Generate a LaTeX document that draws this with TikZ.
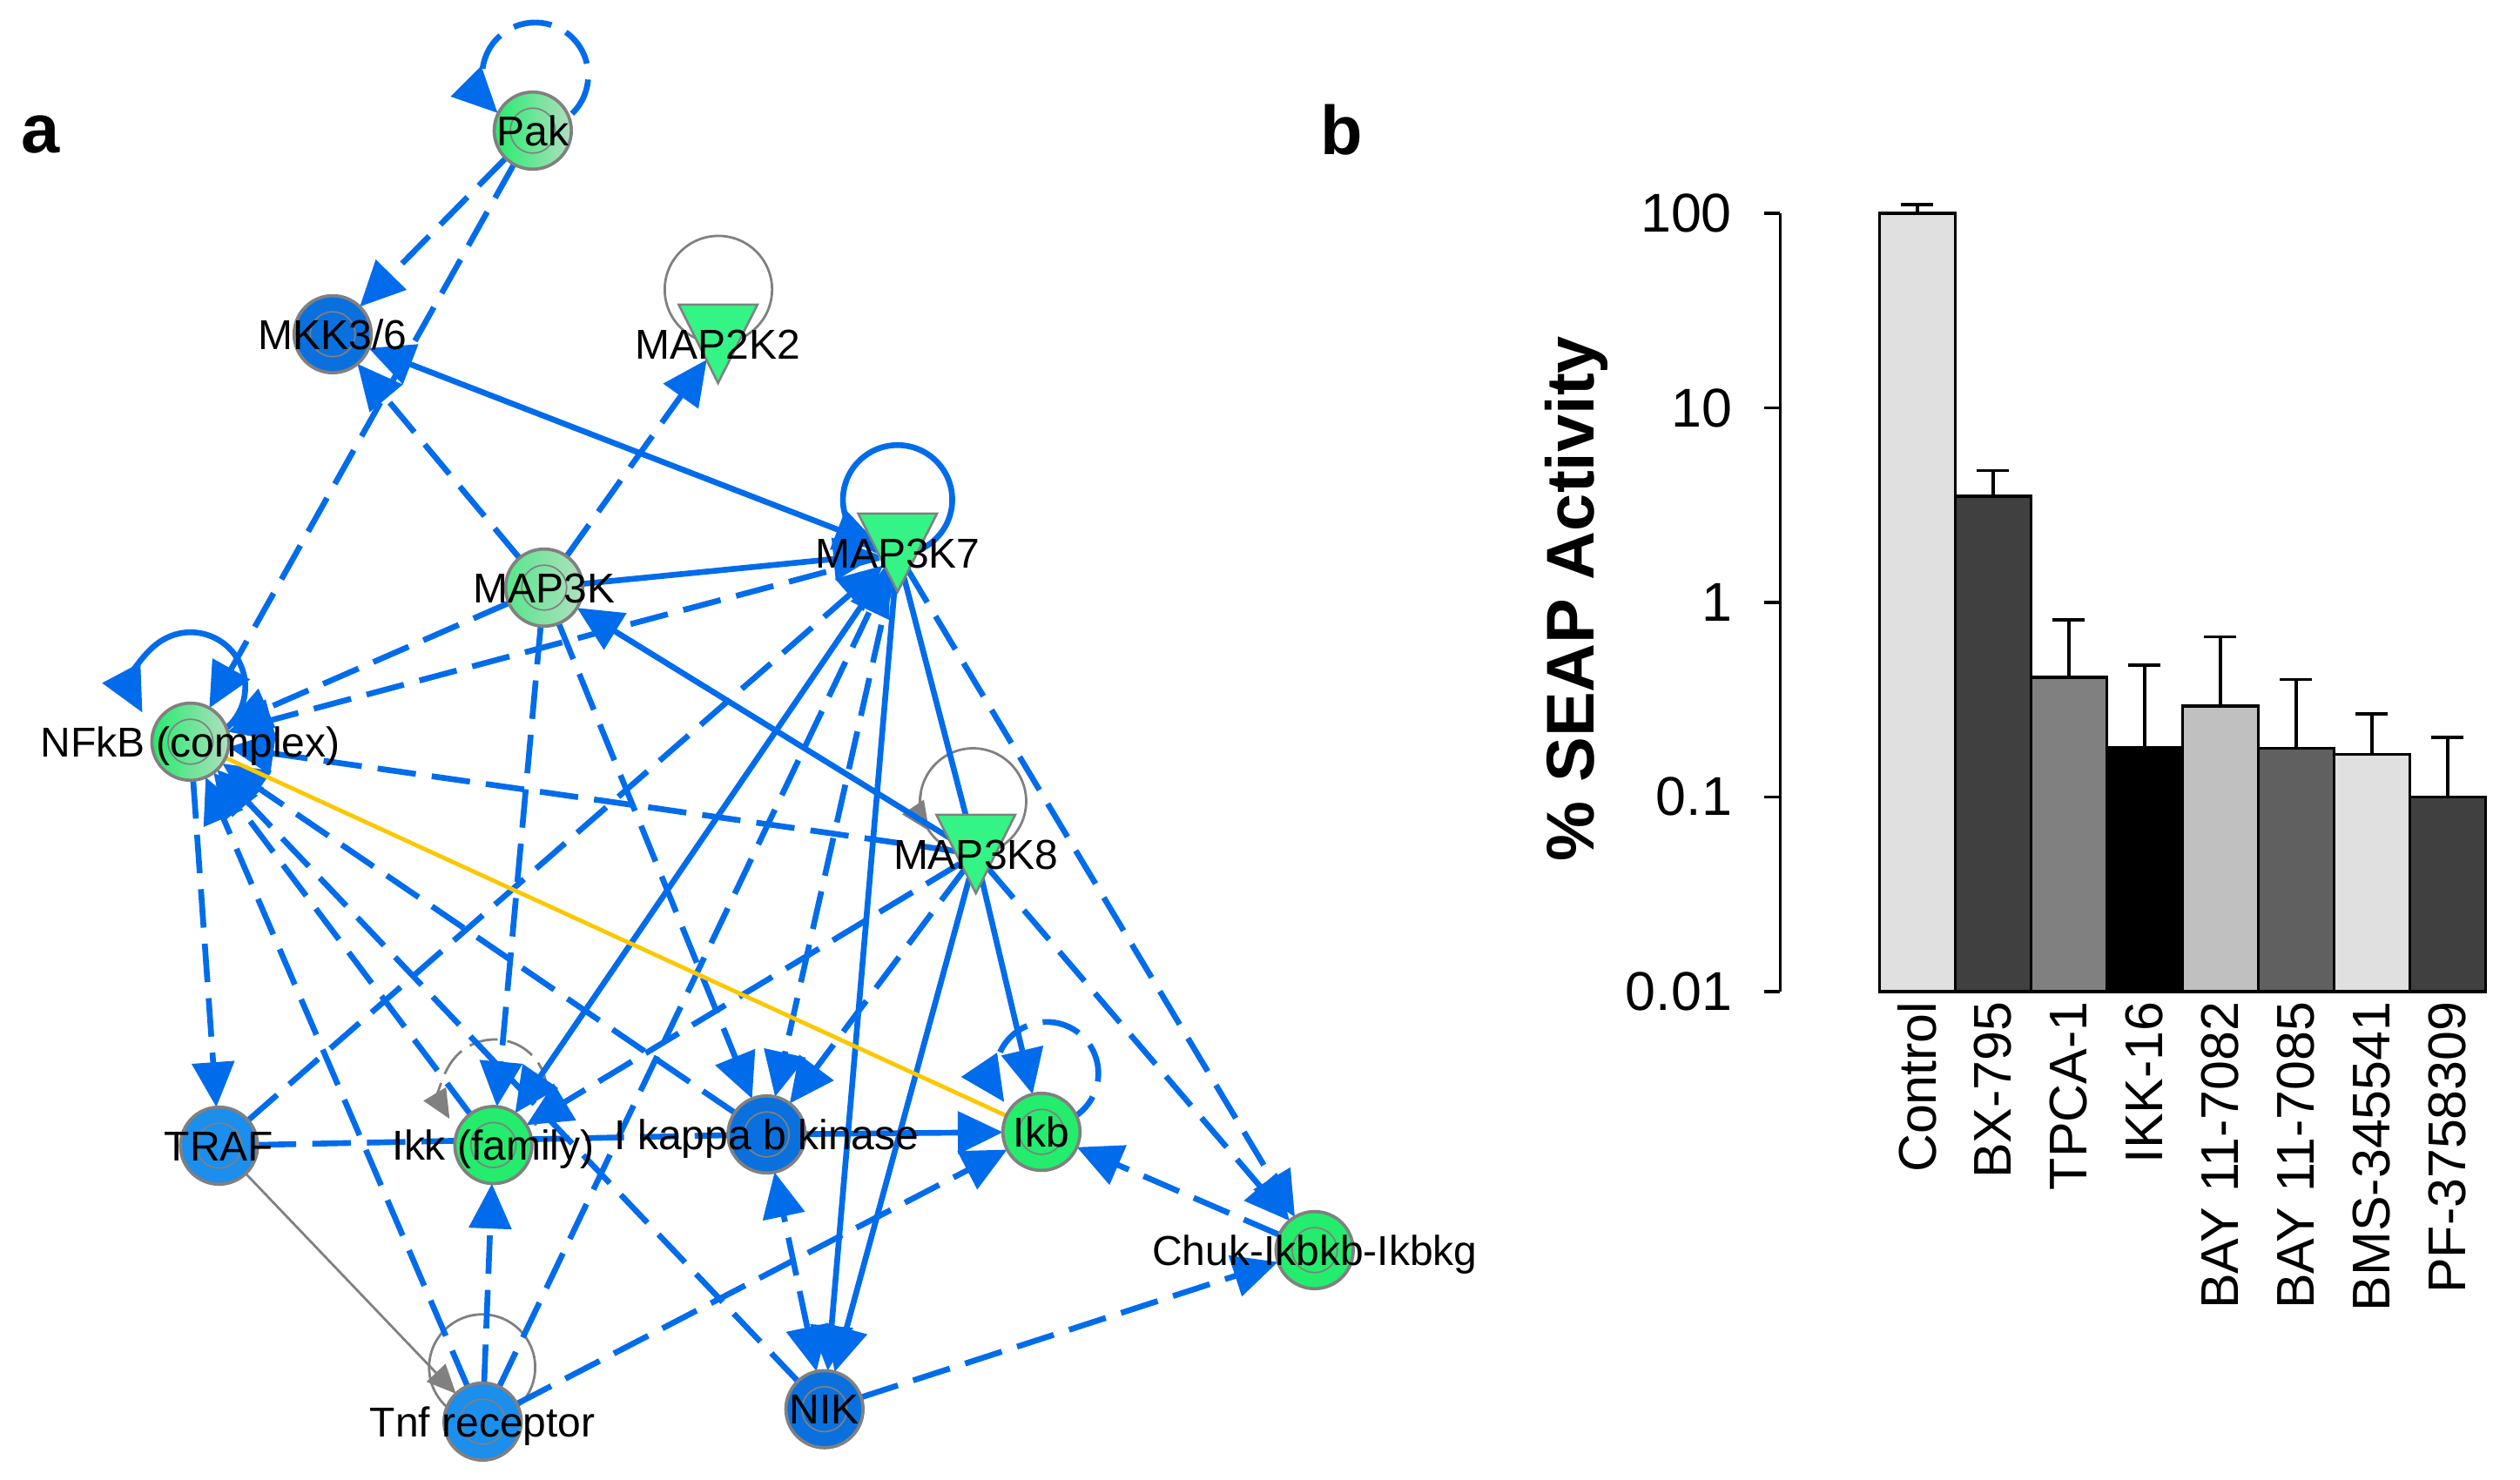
\documentclass[tikz,border=0pt]{standalone}
\usepackage{fontspec}
\setmainfont{Liberation Sans}
\usetikzlibrary{arrows.meta,calc}
\pgfdeclarelayer{edges}
\pgfsetlayers{edges,main}
\definecolor{eblue}{RGB}{0,108,235}
\definecolor{ngray}{RGB}{128,128,128}
\definecolor{bluedk}{RGB}{10,112,222}
\definecolor{bluelt}{RGB}{28,142,236}
\definecolor{gbright}{RGB}{36,236,108}
\definecolor{gpale}{RGB}{178,222,192}
\definecolor{tgreen}{RGB}{52,244,134}
\definecolor{yel}{RGB}{250,200,0}
\definecolor{g224}{RGB}{224,224,224}
\definecolor{g192}{RGB}{192,192,192}
\definecolor{g128}{RGB}{128,128,128}
\definecolor{g96}{RGB}{96,96,96}
\definecolor{g64}{RGB}{64,64,64}
\newcommand\lblfont{\fontsize{13}{15}\selectfont}
\newcommand\trishape[1]{\filldraw[tri] ([shift={(-12.25pt,12.2pt)}]#1.center) -- ([shift={(12.25pt,12.2pt)}]#1.center) -- ([shift={(0pt,-12.2pt)}]#1.center) -- cycle;}
\begin{document}
\begin{tikzpicture}[x=0.5pt,y=-0.5pt,
  eb/.style={draw=eblue, line width=1.8pt},
  ds/.style={eb, dash pattern=on 12pt off 5pt},
  ar/.style={-{Triangle[length=14pt,width=13pt]}},
  ar2/.style={{Triangle[length=14pt,width=13pt]}-{Triangle[length=14pt,width=13pt]}},
  gl/.style={draw=ngray, line width=0.75pt},
  gds/.style={gl, dash pattern=on 9pt off 3pt},
  gar/.style={-{Triangle[length=9pt,width=8pt]}},
  yl/.style={draw=yel, line width=1.3pt},
  nd/.style={circle, draw=ngray, line width=1pt, minimum size=24pt, inner sep=0pt, outer sep=0pt,
    path picture={\draw[ngray, line width=0.45pt] (path picture bounding box.center) circle[radius=7pt];}},
  gn/.style={nd, fill=gbright},
  bd/.style={nd, fill=bluedk},
  bl/.style={nd, fill=bluelt},
  pg/.style={nd, left color=gbright, middle color=gbright!75!gpale, right color=gpale},
  pg2/.style={nd, left color=gbright!65!gpale, right color=gpale},
  tn/.style={circle, minimum size=12pt, inner sep=0pt, outer sep=0pt},
  tri/.style={fill=tgreen, draw=ngray, line width=0.7pt},
  lbl/.style={font=\lblfont, anchor=base, inner sep=0pt, text=black},
  barax/.style={draw=black, line width=0.95pt},
  ticklab/.style={font=\fontsize{17}{19}\selectfont, anchor=east, inner sep=0pt},
  xlab/.style={font=\fontsize{16.5}{18}\selectfont, rotate=90, anchor=east, inner sep=0pt},
  panel/.style={font=\bfseries\fontsize{21.5}{24}\selectfont, anchor=base, inner sep=0pt}
]
\useasboundingbox (0,0) rectangle (1568,921);

% ---------- panel labels
\node[panel] (pa) at (25,95) {a};
\node[panel] (pb) at (835,96) {b};

% ---------- network nodes
\node[pg]  (Pak)    at (331.5,81.3) {};
\node[bd]  (MKK)    at (207,208) {};
\node[tn]  (MAP2K2) at (446.8,214) {};
\node[tn]  (MAP3K7) at (558.5,344) {};
\node[pg2] (MAP3K)  at (338.6,365.7) {};
\node[pg]  (NFkB)   at (118.5,461.6) {};
\node[tn]  (MAP3K8) at (607.2,531.5) {};
\node[bl]  (TRAF)   at (136.3,713) {};
\node[gn]  (Ikk)    at (307,712.6) {};
\node[bd]  (IKBK)   at (477,706) {};
\node[gn]  (Ikb)    at (648,704.4) {};
\node[gn]  (Chuk)   at (818,778) {};
\node[bl]  (Tnf)    at (300.3,884.7) {};
\node[bd]  (NIK)    at (513,877) {};

\trishape{MAP2K2}
\trishape{MAP3K7}
\trishape{MAP3K8}

% ---------- loop centres
\coordinate (cPak) at (333,47);
\coordinate (cNF) at (118.6,427.5);
\coordinate (cIkb) at (651.4,668);
\coordinate (cIkk) at (307.7,679.5);
\coordinate (cM8) at (605.5,498.7);
\coordinate (cM2) at (447,180.2);
\coordinate (cM7) at (558.5,311);
\coordinate (cTnf) at (300,851);

\begin{pgfonlayer}{edges}
% loops
\draw[ds,ar] ($(cPak)+(314:16.5pt)$) arc[start angle=314, end angle=585, radius=16.5pt];
\draw[eb,ar] ($(cNF)+(-60:17pt)$) arc[start angle=-60, end angle=208, radius=17pt];
\draw[ds,ar] ($(cIkb)+(-70:16pt)$) arc[start angle=-70, end angle=214, radius=16pt];
\draw[gds,gar] ($(cIkk)+(-40:16.3pt)$) arc[start angle=-40, end angle=211, radius=16.3pt];
\draw[gl] (cM8) circle[radius=16.5pt];
\draw[gl,gar] ($(cM8)+(170:16.5pt)$) arc[start angle=170, end angle=214, radius=16.5pt];
\draw[gl] (cM2) circle[radius=16.7pt];
\draw[eb] (cM7) circle[radius=17pt];
\draw[gl] (cTnf) circle[radius=16.5pt];
% edges
\draw[ds,ar] (Pak) -- (MKK);
\draw[ds,ar] (Pak) -- (NFkB);
\draw[eb,ar2] (MKK) -- (MAP3K7);
\draw[ds,ar] (MAP3K) -- (MKK);
\draw[ds,ar] (MAP3K) -- (MAP2K2);
\draw[eb,ar] (MAP3K) -- (MAP3K7);
\draw[ds,ar] (MAP3K) -- (NFkB);
\draw[ds,ar] (MAP3K7) -- (NFkB);
\draw[ds,ar] (NFkB) -- (TRAF);
\draw[ds,ar] (MAP3K8) -- (NFkB);
\draw[ds,ar] (Tnf) -- (NFkB);
\draw[ds,ar] (Ikk) -- (NFkB);
\draw[ds,ar] (NIK) -- (NFkB);
\draw[ds,ar] (IKBK) -- (NFkB);
\draw[ds,ar] (TRAF) -- (MAP3K7);
\draw[ds] (TRAF) -- (IKBK);
\draw[gl,gar] (TRAF) -- (Tnf);
\draw[ds,ar] (MAP3K) -- (Ikk);
\draw[eb,ar] (MAP3K7) -- (Ikk);
\draw[ds,ar] (MAP3K8) -- (Ikk);
\draw[ds,ar] (Tnf) -- (Ikk);
\draw[ds,ar] (MAP3K) -- (IKBK);
\draw[ds,ar] (MAP3K7) -- (IKBK);
\draw[ds,ar] (MAP3K8) -- (IKBK);
\draw[eb,ar] (IKBK) -- (Ikb);
\draw[ds,ar2] (NIK) -- (IKBK);
\draw[eb,ar] (MAP3K7) -- (NIK);
\draw[eb,ar] (MAP3K8) -- (NIK);
\draw[ds,ar] (NIK) -- (Chuk);
\draw[ds,ar] (MAP3K7) -- (Chuk);
\draw[ds,ar] (MAP3K8) -- (Chuk);
\draw[ds,ar] (Chuk) -- (Ikb);
\draw[eb,ar] (MAP3K8) -- (Ikb);
\draw[ds,ar] (Tnf) -- (Ikb);
\draw[ds,ar] (Tnf) -- (MAP3K7);
\draw[eb] (MAP3K7) -- (MAP3K8);
\draw[eb,ar] (MAP3K8) -- (MAP3K);
\draw[yl] (NFkB) -- (Ikb);
\end{pgfonlayer}

% ---------- node labels
\node[lbl] (tPak)  at ($(Pak.center)+(0pt,-4.65pt)$) {Pak};
\node[lbl] (tMKK)  at ($(MKK.center)+(0pt,-4.65pt)$) {MKK3/6};
\node[lbl] (tM2)   at ($(MAP2K2.center)+(0pt,-4.65pt)$) {MAP2K2};
\node[lbl] (tM7)   at ($(MAP3K7.center)+(0pt,-4.65pt)$) {MAP3K7};
\node[lbl] (tM3)   at ($(MAP3K.center)+(0pt,-4.65pt)$) {MAP3K};
\node[lbl] (tNF)   at ($(NFkB.center)+(0pt,-4.65pt)$) {NFkB (complex)};
\node[lbl] (tM8)   at ($(MAP3K8.center)+(0pt,-4.65pt)$) {MAP3K8};
\node[lbl] (tTRAF) at ($(TRAF.center)+(0pt,-4.65pt)$) {TRAF};
\node[lbl] (tIkk)  at ($(Ikk.center)+(0pt,-4.65pt)$) {Ikk (family)};
\node[lbl] (tIKBK) at ($(IKBK.center)+(0pt,-4.65pt)$) {I kappa b kinase};
\node[lbl] (tIkb)  at ($(Ikb.center)+(0pt,-4.65pt)$) {Ikb};
\node[lbl] (tChuk) at ($(Chuk.center)+(0pt,-4.65pt)$) {Chuk-Ikbkb-Ikbkg};
\node[lbl] (tTnf)  at ($(Tnf.center)+(0pt,-4.65pt)$) {Tnf receptor};
\node[lbl] (tNIK)  at ($(NIK.center)+(0pt,-4.65pt)$) {NIK};

% ---------- panel b: bar chart
\draw[barax] (1107.6,132.8) -- (1107.6,617);
\foreach \y/\t [count=\k] in {132.8/100, 253.85/10, 374.9/1, 495.95/0.1, 617/0.01} {
  \draw[barax] (1097.8,\y) -- (1107.6,\y);
  \node[ticklab] (tick\k) at (1078,\y) {\t};
}
\foreach \i/\tp/\er/\c/\l in {0/132.8/127.2/g224/Control, 1/308.9/292.9/g64/BX-795, 2/421.5/385.7/g128/TPCA-1, 3/465.2/413.9/black/IKK-16, 4/439.3/396.4/g192/BAY 11-7082, 5/465.6/423/g96/BAY 11-7085, 6/469.4/444.3/g224/BMS-345541, 7/496/458.8/g64/PF-3758309} {
  \pgfmathsetmacro\xl{1169.4+47.14*\i}
  \pgfmathsetmacro\xr{\xl+47.14}
  \pgfmathsetmacro\xc{\xl+23.57}
  \draw[barax] (\xc,\tp) -- (\xc,\er) (\xc-10,\er) -- (\xc+10,\er);
  \filldraw[barax, fill=\c] (\xl,617) rectangle (\xr,\tp);
  \node[xlab] (xl\i) at (\xc,623) {\l};
}
\node[font=\bfseries\fontsize{21}{24}\selectfont, rotate=90, inner sep=0pt] (ytitle) at (981,372.5) {\% SEAP Activity};
\end{tikzpicture}
\end{document}
